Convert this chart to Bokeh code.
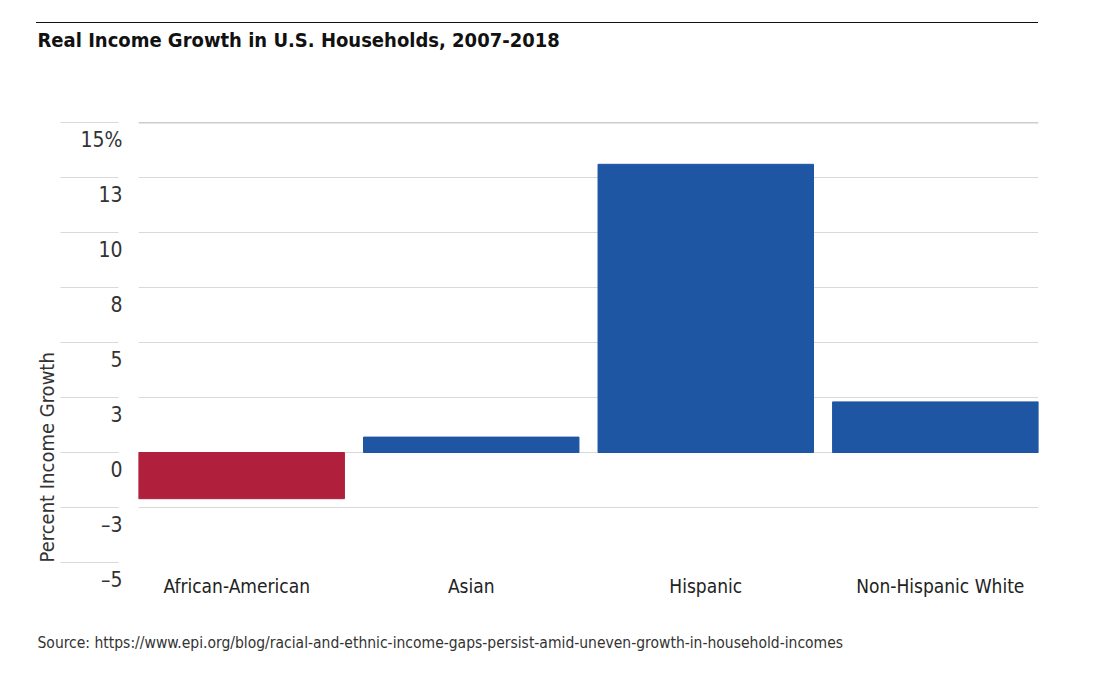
from bokeh.plotting import figure
from bokeh.layouts import column
from bokeh.models import (FactorRange, Range1d, FixedTicker, Span, Title, Div,
                          ColumnDataSource)
from bokeh.embed import file_html
from bokeh.resources import INLINE

# ---- data ----
categories = ["African-American", "Asian", "Hispanic", "Non-Hispanic White"]
growth = [-2.1, 0.7, 13.1, 2.3]
y_ticks = [-5, -2.5, 0, 2.5, 5, 7.5, 10, 12.5, 15]
y_tick_labels = ["\u20135", "\u20133", "0", "3", "5", "8", "10", "13", "15%"]
title_text = "Real Income Growth in U.S. Households, 2007-2018"
y_label = "Percent Income Growth"
source_text = ("Source: https://www.epi.org/blog/racial-and-ethnic-income-gaps-"
               "persist-amid-uneven-growth-in-household-incomes")

# ---- style ----
RED = "#B01F3C"
BLUE = "#1F56A3"
FONT = "'DejaVu Sans Condensed', 'DejaVu Sans', sans-serif"
GRID = "#d9d9d9"
W = 1100

# ---- black rule above the title ----
rule = Div(text="", width=1002, height=1, margin=(22, 0, 0, 36),
           styles={"background-color": "#111111"})

# ---- main chart ----
colors = [RED if v < 0 else BLUE for v in growth]
src = ColumnDataSource(dict(cat=categories, val=growth, color=colors))

p = figure(width=W, height=659, title=None,
           x_range=FactorRange(factors=categories, range_padding=-0.0813,
                               range_padding_units="absolute"),
           y_range=Range1d(-5, 15),
           output_backend="svg", toolbar_location=None,
           min_border_left=138, min_border_right=W - 1038,
           min_border_top=99, min_border_bottom=120)
p.outline_line_color = None
p.background_fill_color = "white"
p.border_fill_color = "white"

p.vbar(x="cat", top="val", bottom=0, width=0.9187, color="color", source=src)

# title (spacer sits between the title and the frame)
p.add_layout(Title(text=" ", text_font_size="1px", standoff=62), "above")
p.add_layout(Title(text=title_text, align="left", offset=-101, vertical_align="top",
                   standoff=8, text_font=FONT, text_font_size="20px",
                   text_font_style="bold", text_color="#111111"), "above")

# grid
p.xgrid.visible = False
p.ygrid.ticker = FixedTicker(ticks=y_ticks)
p.ygrid.grid_line_color = GRID
p.ygrid.grid_line_width = 1
p.add_layout(Span(location=15, dimension="width", line_color="#9a9a9a", line_width=1.5))

# y axis
ya = p.yaxis[0]
ya.ticker = FixedTicker(ticks=y_ticks)
ya.major_label_overrides = {t: "\n" + l for t, l in zip(y_ticks, y_tick_labels)}
ya.axis_line_color = None
ya.major_tick_out = 78
ya.major_tick_in = 0
ya.major_tick_line_color = GRID
ya.major_tick_line_dash = "58 22"
ya.minor_tick_line_color = None
ya.major_label_standoff = -62
ya.major_label_text_font = FONT
ya.major_label_text_font_size = "21px"
ya.major_label_text_color = "#333333"
ya.major_label_text_line_height = 1.45

# y axis title (bottom aligned, outside the tick labels)
p.add_layout(Title(text=y_label, align="left", offset=0, standoff=38,
                   text_font=FONT, text_font_size="20px", text_font_style="normal",
                   text_color="#333333"), "left")

# x axis
xa = p.xaxis[0]
xa.axis_line_color = None
xa.major_tick_line_color = None
xa.minor_tick_line_color = None
xa.major_tick_out = 0
xa.major_tick_in = 0
xa.major_label_standoff = 12
xa.major_label_text_font = FONT
xa.major_label_text_font_size = "19px"
xa.major_label_text_color = "#222222"

# spacer + source note
p.add_layout(Title(text=" ", text_font_size="1px", standoff=29), "below")
p.add_layout(Title(text=source_text, align="left", offset=-101, standoff=0,
                   text_font=FONT, text_font_size="15.5px", text_font_style="normal",
                   text_color="#333333"), "below")

layout = column(rule, p)
open("out.html", "w").write(file_html(layout, INLINE))
